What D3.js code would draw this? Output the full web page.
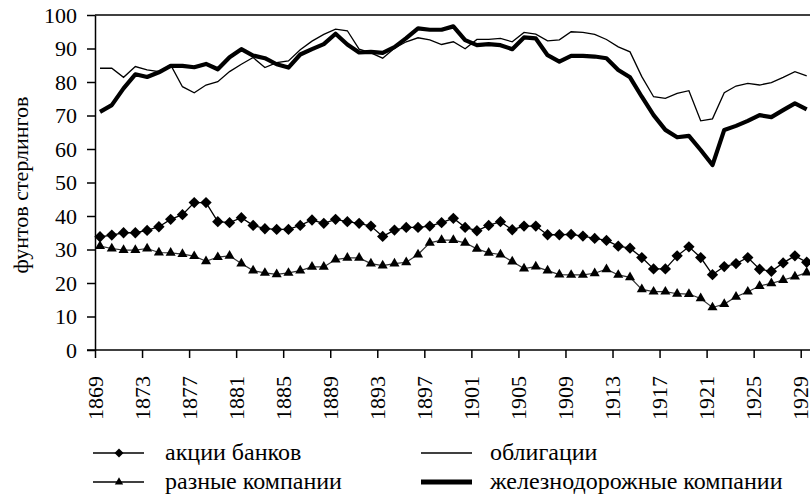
<!DOCTYPE html>
<html>
<head>
<meta charset="utf-8">
<script src="https://cdn.jsdelivr.net/npm/d3@7"></script>
<style>
  body { margin: 0; background: #fff; }
</style>
</head>
<body>
<svg id="chart" width="810" height="495"></svg>
<script>
// years 1869..1929
var years = d3.range(1869, 1930);
var xTicks = d3.range(1869, 1930, 4);
var yTicks = d3.range(0, 101, 10);

// акции банков
var banks = [33.8,34.3,35,35,35.7,36.8,39,40.4,44,44,
             38.3,38,39.5,37.2,36.2,36,36,37.2,38.8,37.8,
             39,38.3,37.8,37,33.9,35.8,36.6,36.6,37,38,
             39.3,36.6,35.6,37.2,38.3,35.9,37,37,34.4,34.4,
             34.5,34,33.3,32.7,31,30.4,27.6,24.2,24.2,28.1,
             30.8,27.6,22.5,24.9,25.8,27.6,24.1,23.5,26,28.1,
             26.2];
// разные компании
var misc = [31,30.3,29.8,29.8,30.3,29.1,29,28.6,28,26.5,
            27.7,28.1,25.8,23.7,23,22.6,23,23.7,24.8,24.8,
            27,27.5,27.5,25.8,25.2,25.8,26.2,28.5,32,32.8,
            32.8,32,30.2,29,28.5,26.4,24.3,24.9,23.7,22.5,
            22.4,22.4,22.9,24.1,22.4,21.7,18.1,17.4,17.4,16.8,
            16.7,15.4,12.7,13.7,15.9,17.4,19.1,19.9,20.9,21.9,
            23.1];
// облигации
var bonds = [84.1,84.1,81.4,84.6,83.6,83.1,85.1,78.6,76.8,79.1,
             80.1,83.1,85.3,87.3,84.3,85.8,86.3,89.6,92.2,94.2,
             95.8,95.3,89.8,88.7,87.1,90.1,92,93.2,92.6,91.2,
             92,89.9,92.7,92.7,93,92,94.8,94.3,92.3,92.6,
             95,94.8,94.2,92.7,90.5,89,81.6,75.6,75.1,76.6,
             77.4,68.4,69,76.8,78.8,79.6,79.1,79.8,81.4,83.1,
             81.8];
// железнодорожные компании
var rails = [71.1,73.1,78.1,82.3,81.5,82.9,84.8,84.8,84.4,85.4,
             83.8,87.4,89.8,87.9,87.1,85.3,84.3,88.2,89.8,91.3,
             94.4,91.2,88.8,89,88.7,90.4,93.1,96,95.6,95.6,
             96.6,92.5,91,91.3,91,89.8,93.3,93,88,86.1,
             87.8,87.8,87.6,87.1,83.6,81.4,75.6,70.1,65.7,63.5,
             63.9,59.7,55.2,65.7,66.9,68.4,70.1,69.5,71.6,73.6,
             71.8];

var seriesNames = ["акции банков", "облигации", "разные компании", "железнодорожные компании"];

var FONT = "'Liberation Serif', 'Times New Roman', serif";
var svg = d3.select("#chart");
var mLeft = 95, mTop = 15, mBottom = 350, mRight = 810;

// points sit a little right of the year ticks, as in the source
var x = d3.scaleLinear().domain([1869, 1929]).range([100, 806.7]);
var xt = d3.scaleLinear().domain([1869, 1929]).range([95, 800.7]);
var y = d3.scaleLinear().domain([0, 100]).range([mBottom, mTop]);

// frame: top line
svg.append("line").attr("x1", mLeft).attr("x2", mRight + 5).attr("y1", mTop).attr("y2", mTop)
  .attr("stroke", "#000").attr("stroke-width", 1.5);

var gx = svg.append("g").attr("transform", "translate(0," + mBottom + ")")
  .call(d3.axisBottom(xt).tickValues(xTicks).tickSize(8).tickSizeOuter(0).tickFormat(d3.format("d")));
gx.attr("font-family", FONT).attr("font-size", 22);
gx.select(".domain").attr("d", "M87,0H" + (mRight + 5)).attr("stroke-width", 1.5);
gx.selectAll(".tick line").attr("stroke-width", 1.5);
gx.selectAll("text")
  .attr("transform", "rotate(-90)")
  .attr("text-anchor", "end")
  .attr("x", -26).attr("y", 0).attr("dy", "0.33em");

var gy = svg.append("g").attr("transform", "translate(" + mLeft + ",0)")
  .call(d3.axisLeft(y).tickValues(yTicks).tickSize(8).tickSizeOuter(0).tickPadding(10));
gy.attr("font-family", FONT).attr("font-size", 22);
gy.select(".domain").attr("stroke-width", 1.5);
gy.selectAll(".tick line").attr("stroke-width", 1.5);

svg.append("text")
  .attr("transform", "translate(20,185) rotate(-90)")
  .attr("text-anchor", "middle").attr("dy", "0.35em")
  .attr("font-family", FONT).attr("font-size", 22)
  .text("фунтов стерлингов");

var line = d3.line().x((d, i) => x(years[i])).y(d => y(d));
var diamond = d3.symbol().type(d3.symbolSquare).size(64);
var tri = d3.symbol().type(d3.symbolTriangle).size(44);

var plot = svg.append("g");
plot.append("path").datum(bonds).attr("d", line)
  .attr("fill", "none").attr("stroke", "#000").attr("stroke-width", 1.3);
plot.append("path").datum(rails).attr("d", line)
  .attr("fill", "none").attr("stroke", "#000").attr("stroke-width", 4.2).attr("stroke-linejoin", "round");
plot.append("path").datum(banks).attr("d", line)
  .attr("fill", "none").attr("stroke", "#000").attr("stroke-width", 1.3);
plot.append("path").datum(misc).attr("d", line)
  .attr("fill", "none").attr("stroke", "#333").attr("stroke-width", 1.2);

plot.selectAll(".dia").data(banks).enter().append("path")
  .attr("d", diamond)
  .attr("transform", (d, i) => "translate(" + x(years[i]) + "," + y(d) + ") rotate(45)")
  .attr("fill", "#000");
plot.selectAll(".tri").data(misc).enter().append("path")
  .attr("d", tri)
  .attr("transform", (d, i) => "translate(" + x(years[i]) + "," + y(d) + ")")
  .attr("fill", "#000");

// legend
var legend = [
  {name: seriesNames[0], lx: 93, ty: 453, w: 1.3, mark: "dia"},
  {name: seriesNames[1], lx: 421, ty: 453, w: 1.3, mark: null},
  {name: seriesNames[2], lx: 93, ty: 482, w: 1.3, mark: "tri"},
  {name: seriesNames[3], lx: 421, ty: 482, w: 5, mark: null}
];
var lg = svg.selectAll(".lg").data(legend).enter().append("g")
  .attr("transform", d => "translate(" + d.lx + "," + d.ty + ")");
lg.append("line").attr("x1", 0).attr("x2", 51).attr("y1", 0).attr("y2", 0)
  .attr("stroke", "#000").attr("stroke-width", d => d.w);
lg.filter(d => d.mark === "dia").append("path")
  .attr("d", d3.symbol().type(d3.symbolSquare).size(40))
  .attr("transform", "translate(26,0) rotate(45)");
lg.filter(d => d.mark === "tri").append("path")
  .attr("d", d3.symbol().type(d3.symbolTriangle).size(30))
  .attr("transform", "translate(26,0)");
lg.append("text").attr("x", d => d.lx < 200 ? 72 : 69).attr("dy", "0.3em")
  .attr("font-family", FONT).attr("font-size", 24).text(d => d.name);
</script>
</body>
</html>
